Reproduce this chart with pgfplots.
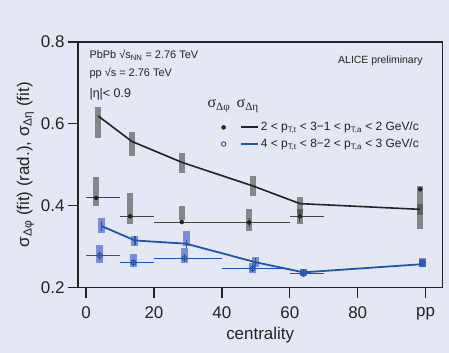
\documentclass[border=0pt]{standalone}
\usepackage{fontspec}
\setmainfont{Liberation Sans}
\newfontfamily\serif{Liberation Serif}
\usepackage{pgfplots}
\pgfplotsset{compat=1.18}
\definecolor{bgc}{RGB}{228,232,245}
\definecolor{bl}{RGB}{30,85,175}
\definecolor{boxg}{RGB}{70,70,70}
\definecolor{boxb}{RGB}{40,70,190}
\definecolor{txt}{RGB}{35,35,35}
\begin{document}
\begin{tikzpicture}
\useasboundingbox (0,0) rectangle (449bp,353bp);
\fill[bgc] (0,0) rectangle (449bp,353bp);
\begin{axis}[
  at={(78bp,65.5bp)}, anchor=south west,
  width=364.3bp, height=245.5bp, scale only axis,
  xmin=-2.36, xmax=104.9, ymin=0.2, ymax=0.8,
  xtick={0,20,40,60,80,100}, xticklabels={0,20,40,60,80,pp},
  ytick={0.2,0.4,0.6,0.8},
  yticklabel style={/pgf/number format/.cd, fixed, fixed zerofill, precision=1},
  /pgf/number format/assume math mode=true,
  tick align=outside, tick pos=left, major tick length=10bp,
  every tick/.style={line width=1.3bp, txt},
  axis line style={line width=1.3bp, txt},
  ticklabel style={font=\fontsize{17}{20}\selectfont, text=txt},
  xticklabel style={yshift=-6bp},
  xlabel={centrality},
  xlabel style={yshift=-1bp},
  ylabel={σ\textsubscript{Δφ} (fit) (rad.), σ\textsubscript{Δη} (fit)},
  label style={font=\fontsize{17}{20}\selectfont, text=txt},
  legend columns=2,
  legend cell align=left,
  legend style={at={(axis description cs:0.385,0.69)}, anchor=north west,
    draw=none, fill=none, font=\fontsize{12}{15}\selectfont, text=txt,
    row sep=2.5bp, column sep=0bp,
    /tikz/column 2/.style={column sep=10bp}},
]
\addlegendimage{only marks, mark=*, mark size=2bp, txt}
\addlegendentry{}
\addlegendimage{txt, line width=2bp}
\addlegendentry{2 < p\textsubscript{T,t} < 3−1 < p\textsubscript{T,a} < 2 GeV/c}
\addlegendimage{only marks, mark=o, mark size=2.2bp, bl, line width=0.9bp}
\addlegendentry{}
\addlegendimage{bl, line width=2bp}
\addlegendentry{4 < p\textsubscript{T,t} < 8−2 < p\textsubscript{T,a} < 3 GeV/c}

% systematic boxes (gray)
\addplot[forget plot, draw=none, mark=none,
  error bars/.cd, y dir=both, y explicit, error mark=none,
  error bar style={draw=boxg, line width=6.5bp, opacity=0.6}]
coordinates {
 (3.6,0.603) +- (0,0.038)
 (13.5,0.550) +- (0,0.029)
 (28.2,0.504) +- (0,0.025)
 (49.2,0.448) +- (0,0.024)
 (63,0.400) +- (0,0.020)
 (98.4,0.390) +- (0,0.013)
 (3.0,0.434) +- (0,0.036)
 (13.0,0.393) +- (0,0.037)
 (28.2,0.382) +- (0,0.017)
 (48.0,0.366) +- (0,0.027)
 (63.0,0.374) +- (0,0.019)
 (98.4,0.395) +- (0,0.053)
};
% systematic boxes (blue)
\addplot[forget plot, draw=none, mark=none,
  error bars/.cd, y dir=both, y explicit, error mark=none,
  error bar style={draw=boxb, line width=7bp, opacity=0.55}]
coordinates {
 (4.6,0.352) +- (0,0.018)
 (14.4,0.313) +- (0,0.012)
 (29.5,0.320) +- (0,0.018)
 (49.8,0.262) +- (0,0.012)
 (64,0.238) +- (0,0.008)
 (99,0.260) +- (0,0.010)
 (4.1,0.283) +- (0,0.022)
 (14.0,0.266) +- (0,0.017)
 (29.0,0.279) +- (0,0.018)
 (49.0,0.248) +- (0,0.013)
 (64.0,0.236) +- (0,0.009)
 (99.0,0.261) +- (0,0.011)
};
% black line: sigma_eta, 2<pTt<3
\addplot[forget plot, txt, line width=1.6bp, mark=none]
coordinates {(3.6,0.619) (13.5,0.557) (28.2,0.506) (49.2,0.448) (63,0.405) (98.4,0.391)};
% blue line: sigma_eta, 4<pTt<8
\addplot[forget plot, bl, line width=1.8bp, mark=none,
  error bars/.cd, y dir=both, y explicit, error mark=none,
  error bar style={bl, line width=1.2bp}]
coordinates {
 (4.6,0.350) +- (0,0.013)
 (14.4,0.315) +- (0,0.012)
 (29.5,0.307) +- (0,0.010)
 (49.8,0.262) +- (0,0.010)
 (64,0.237) +- (0,0.008)
 (99,0.257) +- (0,0.006)
};
% black dots: sigma_phi, 2<pTt<3
\addplot[forget plot, only marks, mark=*, mark size=2bp, txt,
  error bars/.cd, x dir=both, x explicit, y dir=both, y explicit,
  error mark=none,
  error bar style={txt!85, line width=1bp}]
coordinates {
 (3.0,0.419) += (7,0.005) -= (3,0.005)
 (13.0,0.374) += (7,0.005) -= (3,0.005)
 (28.2,0.360) += (11.8,0.006) -= (8.2,0.006)
 (48.0,0.359) += (12,0.012) -= (8,0.012)
 (63.0,0.374) += (7,0.015) -= (3,0.015)
 (98.4,0.440) += (0,0.005) -= (0,0.005)
};
% blue circles: sigma_phi, 4<pTt<8
\addplot[forget plot, only marks, mark=o, mark size=2.4bp, bl, line width=1bp,
  error bars/.cd, x dir=both, x explicit, y dir=both, y explicit,
  error mark=none,
  error bar style={bl, line width=1bp}]
coordinates {
 (4.1,0.278) += (5.9,0.010) -= (4.1,0.010)
 (14.0,0.261) += (6,0.008) -= (4,0.008)
 (29.0,0.272) += (11,0.010) -= (9,0.010)
 (49.0,0.246) += (11,0.008) -= (9,0.008)
 (64.0,0.233) += (6,0.006) -= (4,0.006)
 (99.0,0.261) += (0,0.006) -= (0,0.006)
};
\node[anchor=west, font=\fontsize{11}{13}\selectfont, text=txt] at (axis description cs:0.022,0.947) {PbPb √s\textsubscript{NN} = 2.76 TeV};
\node[anchor=west, font=\fontsize{11}{13}\selectfont, text=txt] at (axis description cs:0.022,0.874) {pp √s = 2.76 TeV};
\node[anchor=west, font=\fontsize{12.5}{14}\selectfont, text=txt] at (axis description cs:0.022,0.785) {|η|< 0.9};
\node[font=\fontsize{10.5}{12}\selectfont, text=txt] at (axis description cs:0.83,0.924) {ALICE preliminary};
\node[font=\fontsize{16}{18}\serif, text=txt] at (axis description cs:0.387,0.738) {σ\textsubscript{Δφ}};
\node[font=\fontsize{16}{18}\serif, text=txt] at (axis description cs:0.466,0.738) {σ\textsubscript{Δη}};
\end{axis}
\end{tikzpicture}
\end{document}
